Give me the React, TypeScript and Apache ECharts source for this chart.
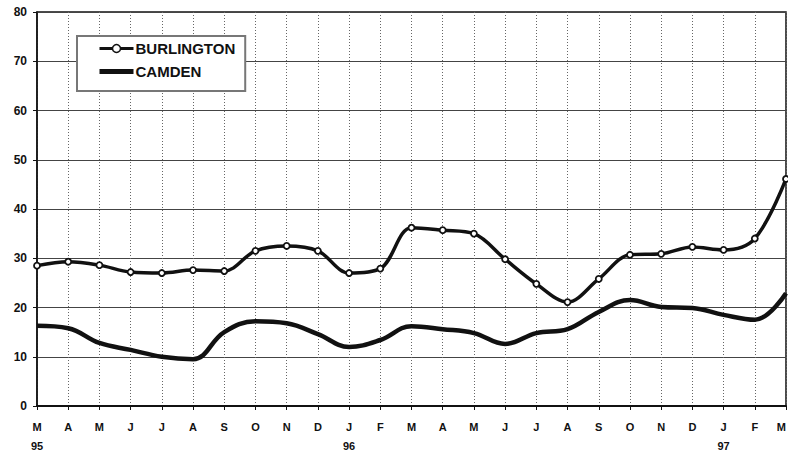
import React, { useEffect, useRef } from "react";
import * as echarts from "echarts";

const months = ["M", "A", "M", "J", "J", "A", "S", "O", "N", "D", "J", "F", "M", "A", "M", "J", "J", "A", "S", "O", "N", "D", "J", "F", "M"];
const years = ["95", "", "", "", "", "", "", "", "", "", "96", "", "", "", "", "", "", "", "", "", "", "", "97", "", ""];
const burlington = [28.5, 29.3, 28.6, 27.2, 27.0, 27.6, 27.4, 31.5, 32.5, 31.5, 27.0, 27.9, 36.2, 35.7, 35.0, 29.8, 24.8, 21.1, 25.8, 30.7, 30.9, 32.3, 31.7, 34.0, 46.1];
const camden = [16.3, 15.8, 12.8, 11.4, 10.0, 9.5, 15.0, 17.2, 16.8, 14.6, 12.0, 13.4, 16.2, 15.6, 14.8, 12.6, 14.8, 15.6, 19.1, 21.5, 20.1, 19.9, 18.5, 17.5, 22.9];
const yTicks = { min: 0, max: 80, interval: 10 };

const categories = months.map((m, i) => (years[i] ? m + "\n" + years[i] : m));

export default function App() {
  const ref = useRef<HTMLDivElement>(null);
  useEffect(() => {
    if (!ref.current) return;
    const chart = echarts.init(ref.current, null, { renderer: "svg" });
    const font = "Arial, 'Liberation Sans', sans-serif";
    chart.setOption({
      animation: false,
      backgroundColor: "#fff",
      grid: {
        left: 37, right: 2, top: 12, bottom: 44,
        outerBoundsMode: "none",
        containLabel: false,
        show: true, borderColor: "#111", borderWidth: 1.5,
      },
      legend: {
        left: 77,
        top: 36,
        orient: "vertical",
        backgroundColor: "#fff",
        borderColor: "#777",
        borderWidth: 2,
        padding: [5, 10, 12, 20],
        itemWidth: 34,
        itemHeight: 10,
        itemGap: 8,
        textStyle: { fontFamily: font, fontWeight: "bold", fontSize: 15, color: "#111", padding: [0, 0, 0, -3] },
        data: [
          { name: "BURLINGTON", itemStyle: { color: "#fff", borderColor: "#111", borderWidth: 1.5 }, lineStyle: { color: "#111", width: 3 } },
          { name: "CAMDEN", itemStyle: { color: "rgba(0,0,0,0)", borderColor: "rgba(0,0,0,0)", borderWidth: 0 }, lineStyle: { color: "#111", width: 5 } },
        ],
      },
      xAxis: {
        type: "category",
        data: categories,
        boundaryGap: false,
        axisLine: { lineStyle: { color: "#111", width: 2 } },
        axisTick: { show: true, length: 4, lineStyle: { color: "#111" } },
        axisLabel: {
          fontFamily: font, fontWeight: "bold", fontSize: 11, color: "#111",
          margin: 11, lineHeight: 19, interval: 0, alignMaxLabel: "right",
        },
        splitLine: { show: true, lineStyle: { type: [1, 2], color: "#666", width: 1 } },
      },
      yAxis: {
        type: "value",
        min: yTicks.min,
        max: yTicks.max,
        interval: yTicks.interval,
        axisLine: { show: true, lineStyle: { color: "#111", width: 1.5 } },
        axisTick: { show: true, length: 4, lineStyle: { color: "#111" } },
        axisLabel: { fontFamily: font, fontWeight: "bold", fontSize: 12, color: "#111", margin: 10 },
        splitLine: { show: true, lineStyle: { color: "#444", width: 1.2 } },
      },
      series: [
        {
          name: "BURLINGTON",
          type: "line",
          data: burlington,
          smooth: 0.35,
          symbol: "circle",
          symbolSize: 6,
          lineStyle: { color: "#111", width: 3.5 },
          itemStyle: { color: "#fff", borderColor: "#111", borderWidth: 1.8 },
          z: 3,
        },
        {
          name: "CAMDEN",
          type: "line",
          data: camden,
          smooth: 0.4,
          symbol: "none",
          lineStyle: { color: "#111", width: 4.5 },
          itemStyle: { color: "#111" },
          z: 2,
        },
      ],
    });
    return () => chart.dispose();
  }, []);
  return <div ref={ref} style={{ position: "fixed", left: 0, top: 0, width: 788, height: 450 }} />;
}
